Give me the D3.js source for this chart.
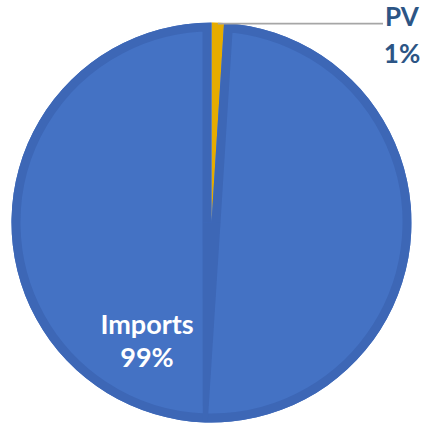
<!DOCTYPE html>
<html>
<head>
<meta charset="utf-8">
<script src="https://cdn.jsdelivr.net/npm/d3@7"></script>
<style>
  html, body { margin: 0; padding: 0; background: #ffffff; }
  svg { display: block; }
</style>
</head>
<body>
<svg id="chart" width="423" height="429"></svg>
<script>
// Energy supply shares
const categories = ["PV", "Imports"];
const values = [1, 99];
const labels = ["PV\n1%", "Imports\n99%"];

const fills = { "PV": "#F2B600", "Imports": "#4472C4" };
const edges = { "PV": "#E6AC00", "Imports": "#3D67B6" };

const W = 423, H = 429;
const cx = 211.5, cy = 222.5, R = 200;
const edgeW = 9; // inner border width

const svg = d3.select("#chart");
const g = svg.append("g").attr("transform", `translate(${cx},${cy})`);

const data = categories.map((c, i) => ({ category: c, value: values[i], label: labels[i] }));

const pie = d3.pie().sort(null).value(d => d.value);
const arcs = pie(data);
const arc = d3.arc().innerRadius(0).outerRadius(R);

const defs = svg.append("defs");
arcs.forEach((a, i) => {
  defs.append("clipPath").attr("id", "clip" + i)
    .append("path").attr("d", arc(a));
});

// slices with an inner border
const slices = g.selectAll("g.slice").data(arcs).join("g").attr("class", "slice");
slices.append("path")
  .attr("d", arc)
  .attr("fill", d => fills[d.data.category]);
slices.append("path")
  .attr("d", arc)
  .attr("fill", "none")
  .attr("stroke", d => edges[d.data.category])
  .attr("stroke-width", edgeW * 2)
  .attr("stroke-linejoin", "miter")
  .attr("clip-path", (d, i) => `url(#clip${i})`);

// border seam running along the mid-angle of the large slice
arcs.filter(a => a.endAngle - a.startAngle > Math.PI).forEach(a => {
  const m = (a.startAngle + a.endAngle) / 2;
  const ux = Math.sin(m), uy = -Math.cos(m);
  const px = -uy, py = ux;
  const w0 = edgeW, w1 = 2.5;
  const p = d3.path();
  p.moveTo(px * w0, py * w0);
  p.lineTo(ux * (R - 1) + px * w1, uy * (R - 1) + py * w1);
  p.lineTo(ux * (R - 1) - px * w1, uy * (R - 1) - py * w1);
  p.lineTo(-px * w0, -py * w0);
  p.closePath();
  g.append("path").attr("d", p.toString())
    .attr("fill", edges[a.data.category])
    .attr("clip-path", `url(#clip${arcs.indexOf(a)})`);
});

// PV label with a leader line
const pv = arcs[0];
const pvMid = (pv.startAngle + pv.endAngle) / 2;
const lx0 = Math.sin(pvMid) * R, ly0 = -Math.cos(pvMid) * R + 1;
const lx1 = 383 - cx;
g.append("line")
  .attr("x1", lx0).attr("y1", ly0)
  .attr("x2", lx1).attr("y2", ly0)
  .attr("stroke", "#A6A6A6").attr("stroke-width", 1.6);

const pvText = g.append("text")
  .attr("x", 402 - cx).attr("y", 26 - cy)
  .attr("text-anchor", "middle")
  .attr("font-family", "Lato, 'Open Sans', sans-serif")
  .attr("font-weight", "bold")
  .attr("font-size", 26)
  .attr("fill", "#2C5585");
pv.data.label.split("\n").forEach((t, i) => {
  pvText.append("tspan").attr("x", 402 - cx).attr("dy", i ? 37 : 0).text(t);
});

// Imports label inside its slice
const imp = arcs[1];
const impText = g.append("text")
  .attr("x", 147 - cx).attr("y", 334 - cy)
  .attr("text-anchor", "middle")
  .attr("font-family", "Lato, 'Open Sans', sans-serif")
  .attr("font-weight", "bold")
  .attr("font-size", 27)
  .attr("fill", "#ffffff");
imp.data.label.split("\n").forEach((t, i) => {
  impText.append("tspan").attr("x", 147 - cx).attr("dy", i ? 33 : 0).text(t);
});
</script>
</body>
</html>
